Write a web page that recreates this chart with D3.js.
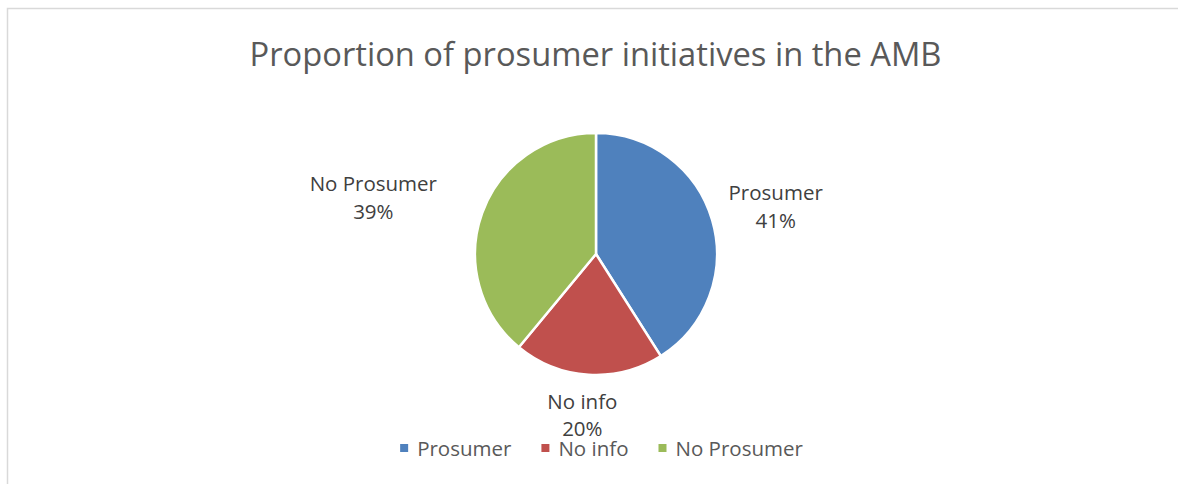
<!DOCTYPE html>
<html>
<head>
<meta charset="utf-8">
<script src="https://cdn.jsdelivr.net/npm/d3@7"></script>
<style>
  html, body { margin: 0; padding: 0; background: #fff; }
  svg { display: block; }
  text { font-family: "Open Sans", "Noto Sans", sans-serif; }
</style>
</head>
<body>
<svg id="chart" width="1178" height="484"></svg>
<script>
// Share of initiatives per category (percent)
const categories = ["Prosumer", "No info", "No Prosumer"];
const shares = [41, 20, 39];
const sliceColors = ["#4F81BD", "#C0504D", "#9BBB59"];
const chartTitle = "Proportion of prosumer initiatives in the AMB";

const W = 1178, H = 484;
const cx = 596, cy = 254, radius = 121;
// data label placement: distance beyond the rim, plus small horizontal / vertical nudges
const labelGap = [17, 17, 48];
const labelShiftX = [0, -5, 0];
const labelLift = [8, 3, -2];

const svg = d3.select("#chart");

// chart area frame (continues past the right and bottom edges)
svg.append("rect")
  .attr("x", 7.5).attr("y", 8.5)
  .attr("width", W + 10).attr("height", H + 10)
  .attr("fill", "#fff")
  .attr("stroke", "#d9d9d9")
  .attr("stroke-width", 1.5);

svg.append("text")
  .attr("x", 595.5).attr("y", 66)
  .attr("text-anchor", "middle")
  .attr("font-size", 32.7)
  .attr("fill", "#595959")
  .text(chartTitle);

const data = categories.map((c, i) => ({
  name: c, value: shares[i], color: sliceColors[i],
  gap: labelGap[i], shiftX: labelShiftX[i], lift: labelLift[i]
}));

const pie = d3.pie().value(d => d.value).sort(null).startAngle(0).endAngle(2 * Math.PI);
const arcs = pie(data);
const arcGen = d3.arc().innerRadius(0).outerRadius(radius);

const g = svg.append("g").attr("transform", `translate(${cx},${cy})`);

g.selectAll("path.slice")
  .data(arcs)
  .join("path")
  .attr("class", "slice")
  .attr("d", arcGen)
  .attr("fill", d => d.data.color)
  .attr("stroke", "#fff")
  .attr("stroke-width", 2.5)
  .attr("stroke-linejoin", "round");

// data labels: category name over percentage, centred in a box outside the rim
const fmtPct = v => Math.round(v / d3.sum(shares) * 100) + "%";
const lineH = 27.5, labelSize = 20.5;
arcs.forEach(a => {
  const mid = (a.startAngle + a.endAngle) / 2;
  const r = radius + a.data.gap;
  const s = Math.sin(mid), c = Math.cos(mid);
  const px = s * r, py = -c * r;
  let top;
  if (Math.abs(s) > 0.3) top = py - lineH;
  else top = c < 0 ? py : py - 2 * lineH;
  top -= a.data.lift;

  const t = g.append("text")
    .attr("text-anchor", "middle")
    .attr("font-size", labelSize)
    .attr("fill", "#404040");
  const l1 = t.append("tspan").attr("y", top + 20).text(a.data.name);
  const l2 = t.append("tspan").attr("y", top + 20 + lineH).text(fmtPct(a.data.value));
  const w = Math.max(l1.node().getComputedTextLength(), l2.node().getComputedTextLength());
  let x = px + a.data.shiftX;
  if (Math.abs(s) > 0.3) x += s > 0 ? w / 2 : -w / 2;
  l1.attr("x", x);
  l2.attr("x", x);
});

// legend centred under the pie
const legend = svg.append("g");
const sq = 8, sqGap = 9, itemGap = 30, legendY = 456;
let xPos = 0;
data.forEach(d => {
  const grp = legend.append("g");
  grp.append("rect")
    .attr("x", 0).attr("y", -12)
    .attr("width", sq).attr("height", sq)
    .attr("fill", d.color);
  const tx = grp.append("text")
    .attr("x", sq + sqGap).attr("y", 0)
    .attr("font-size", labelSize)
    .attr("fill", "#595959")
    .text(d.name);
  const w = sq + sqGap + tx.node().getComputedTextLength();
  grp.attr("transform", `translate(${xPos},0)`);
  xPos += w + itemGap;
});
const legendW = xPos - itemGap;
legend.attr("transform", `translate(${601.5 - legendW / 2},${legendY})`);
</script>
</body>
</html>
